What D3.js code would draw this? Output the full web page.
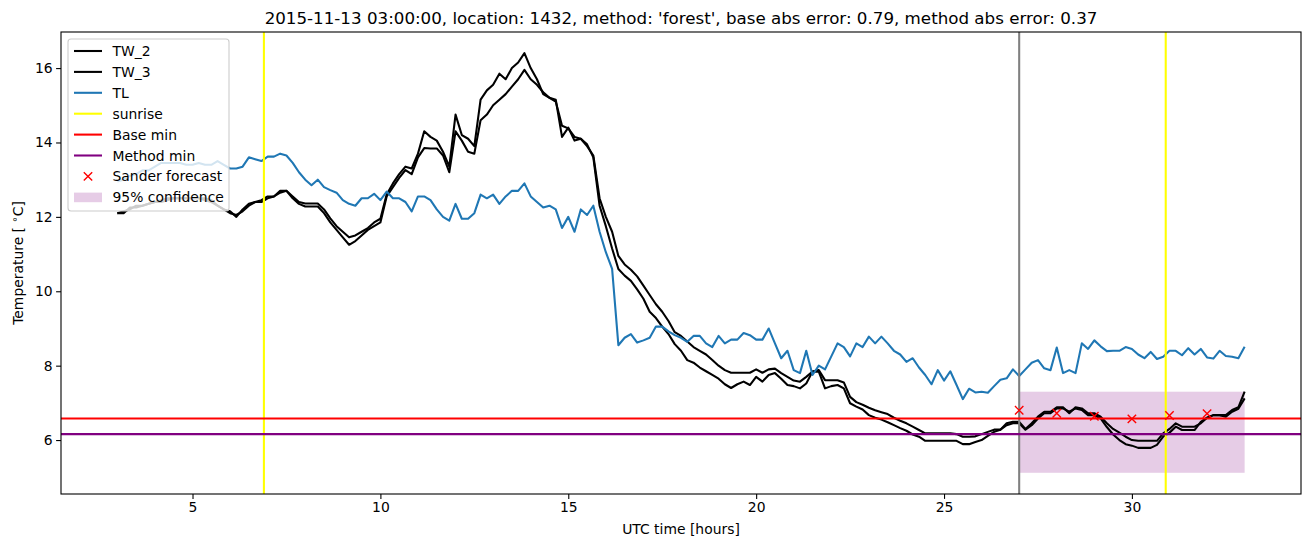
<!DOCTYPE html>
<html>
<head>
<meta charset="utf-8">
<script src="https://cdn.jsdelivr.net/npm/d3@7"></script>
<style>
  html, body { margin: 0; padding: 0; background: #fff; }
  svg { display: block; font-family: "DejaVu Sans", sans-serif; }
</style>
</head>
<body>
<svg id="chart" width="1311" height="547"></svg>
<script>
// ---------------- data ----------------
// 10-minute samples from 03:00 (hour 3) to hour 33
const startHour = 3;
const stepHours = 1 / 6;

const TL = [
  12.95, 13.0, 13.1, 13.15, 13.25, 13.25,
  13.35, 13.45, 13.45, 13.45, 13.45, 13.4,
  13.4, 13.45, 13.4, 13.4, 13.5, 13.4,
  13.3, 13.3, 13.35, 13.6, 13.55, 13.5,
  13.62, 13.62, 13.7, 13.65, 13.45, 13.2,
  13.0, 12.85, 13.0, 12.8, 12.72, 12.65,
  12.45, 12.35, 12.3, 12.5, 12.5, 12.62,
  12.45, 12.68, 12.5, 12.5, 12.4, 12.15,
  12.55, 12.55, 12.45, 12.2, 12.0, 11.9,
  12.35, 11.95, 11.95, 12.1, 12.6, 12.5,
  12.6, 12.35, 12.55, 12.7, 12.7, 12.9,
  12.55, 12.4, 12.25, 12.3, 12.2, 11.7,
  12.0, 11.6, 12.2, 12.05, 12.3, 11.6,
  11.05, 10.6, 8.55, 8.75, 8.85, 8.62,
  8.68, 8.75, 9.05, 9.05, 8.92, 8.82,
  8.75, 8.64, 8.8, 8.8, 8.6, 8.5,
  8.8, 8.6, 8.7, 8.7, 8.88, 8.82,
  8.7, 8.7, 9.0, 8.6, 8.2, 8.4,
  7.88, 7.8, 8.4, 7.75, 8.0, 7.9,
  8.25, 8.6, 8.5, 8.25, 8.6, 8.5,
  8.78, 8.6, 8.78, 8.6, 8.4, 8.3,
  8.1, 8.2, 7.95, 7.75, 7.5, 7.88,
  7.6, 7.85, 7.48, 7.1, 7.38, 7.28,
  7.3, 7.27, 7.45, 7.62, 7.66, 7.9,
  7.72, 7.9, 8.08, 8.15, 7.93, 7.88,
  8.49, 7.8, 7.88, 7.8, 8.6, 8.45,
  8.68, 8.52, 8.39, 8.4, 8.4, 8.5,
  8.45, 8.3, 8.2, 8.37, 8.18, 8.24,
  8.4, 8.4, 8.28, 8.47, 8.3, 8.45,
  8.22, 8.19, 8.4, 8.26, 8.24, 8.2,
  8.51
];

const TW_2 = [
  12.1, 12.1, 12.25, 12.25, 12.3, 12.35,
  12.4, 12.45, 12.5, 12.5, 12.5, 12.5,
  12.5, 12.5, 12.5, 12.45, 12.3, 12.2,
  12.15, 12.0, 12.2, 12.35, 12.4, 12.45,
  12.55, 12.55, 12.65, 12.7, 12.55, 12.4,
  12.36, 12.36, 12.36, 12.2, 11.96, 11.75,
  11.6, 11.45, 11.5, 11.6, 11.7, 11.85,
  11.95, 12.6, 12.9, 13.15, 13.35, 13.3,
  13.7, 14.3, 14.15, 14.05, 13.75, 13.35,
  14.75, 14.2, 14.1, 13.9, 15.15, 15.4,
  15.55, 15.85, 15.7, 16.0, 16.15, 16.4,
  16.0, 15.7, 15.3, 15.2, 15.15, 14.15,
  14.4, 14.05, 14.1, 13.9, 13.65, 12.5,
  12.0, 11.6, 10.95, 10.72, 10.58, 10.4,
  10.15, 9.9, 9.65, 9.45, 9.2, 8.9,
  8.8, 8.65, 8.5, 8.4, 8.3, 8.15,
  8.0, 7.88, 7.81, 7.81, 7.81, 7.81,
  7.9, 7.81, 7.9, 7.92, 7.8, 7.7,
  7.6, 7.57, 7.7, 7.84, 7.88, 7.61,
  7.61, 7.61, 7.55, 7.16, 7.02, 6.95,
  6.87, 6.8, 6.75, 6.7, 6.6, 6.52,
  6.45, 6.36, 6.27, 6.18, 6.18, 6.18,
  6.18, 6.18, 6.16, 6.09, 6.09, 6.1,
  6.16, 6.22, 6.28, 6.28, 6.45, 6.49,
  6.49, 6.3, 6.45, 6.63, 6.76, 6.76,
  6.88, 6.88, 6.72, 6.88, 6.85, 6.72,
  6.72, 6.63, 6.45, 6.3, 6.2, 6.09,
  6.0, 5.98, 5.98, 5.98, 5.98, 6.18,
  6.3, 6.45, 6.36, 6.36, 6.36, 6.45,
  6.6, 6.67, 6.67, 6.67, 6.81, 6.88,
  7.3
];

const TW_3 = [
  12.1, 12.15, 12.2, 12.3, 12.3, 12.35,
  12.4, 12.4, 12.45, 12.5, 12.5, 12.5,
  12.5, 12.5, 12.45, 12.4, 12.3, 12.2,
  12.1, 12.05, 12.15, 12.3, 12.4, 12.4,
  12.5, 12.55, 12.7, 12.7, 12.5, 12.35,
  12.28, 12.28, 12.28, 12.1, 11.85, 11.65,
  11.45, 11.25, 11.35, 11.5, 11.65, 11.75,
  11.85, 12.55, 12.8, 13.05, 13.26, 13.15,
  13.6, 13.85, 13.84, 13.84, 13.65, 13.2,
  14.3, 14.05, 13.75, 13.7, 14.6, 14.75,
  15.0, 15.15, 15.3, 15.5, 15.7, 15.95,
  15.7, 15.55, 15.35, 15.2, 15.1, 14.45,
  14.38, 14.15, 14.1, 13.95, 13.6, 12.3,
  11.75, 11.15, 10.6, 10.42, 10.28, 10.05,
  9.8, 9.45, 9.28, 9.05, 8.85, 8.58,
  8.4, 8.15, 8.08, 7.95, 7.85, 7.75,
  7.65, 7.5, 7.4, 7.5, 7.57, 7.48,
  7.7, 7.57, 7.75, 7.8, 7.65, 7.48,
  7.45, 7.39, 7.52, 7.84, 7.84, 7.39,
  7.45, 7.48, 7.39, 6.99, 6.9, 6.82,
  6.67, 6.6, 6.55, 6.48, 6.4, 6.32,
  6.25, 6.15, 6.09, 5.98, 5.98, 5.98,
  5.98, 5.98, 5.98, 5.89, 5.89, 5.95,
  6.0, 6.11, 6.22, 6.28, 6.4, 6.45,
  6.45, 6.28, 6.4, 6.58, 6.72, 6.72,
  6.85, 6.85, 6.76, 6.85, 6.81, 6.67,
  6.67, 6.58, 6.35, 6.15, 6.0, 5.89,
  5.85, 5.79, 5.79, 5.79, 5.87, 6.09,
  6.2, 6.36, 6.27, 6.27, 6.27, 6.49,
  6.6, 6.67, 6.67, 6.63, 6.76, 6.84,
  7.12
];

const sunriseHours = [6.9, 30.9];
const forecastStartHour = 27;
const baseMin = 6.58;
const methodMin = 6.16;
const forecastHours = [27, 28, 29, 30, 31, 32];
const sanderForecast = [6.8, 6.72, 6.64, 6.57, 6.66, 6.71];
const bandHours = [27, 33];
const bandLow = 5.12;
const bandHigh = 7.3;

const xTicks = [5, 10, 15, 20, 25, 30];
const yTicks = [6, 8, 10, 12, 14, 16];
const xDomain = [1.5, 34.5];
const yDomain = [4.55, 16.97];

const titleText = "2015-11-13 03:00:00, location: 1432, method: 'forest', base abs error: 0.79, method abs error: 0.37";

// ---------------- layout ----------------
const L = 61, R = 1301, T = 32, B = 494;
const LW = 2.08; // 1.5pt at 100 dpi
const svg = d3.select("#chart");
const x = d3.scaleLinear().domain(xDomain).range([L, R]);
const y = d3.scaleLinear().domain(yDomain).range([B, T]);

const hoursOf = arr => arr.map((_, i) => startHour + i * stepHours);
const toPts = arr => { const h = hoursOf(arr); return arr.map((v, i) => [h[i], v]); };

svg.append("defs").append("clipPath").attr("id", "clip")
  .append("rect").attr("x", L).attr("y", T).attr("width", R - L).attr("height", B - T);
const plot = svg.append("g").attr("clip-path", "url(#clip)");

// confidence band (below lines)
plot.append("rect")
  .attr("x", x(bandHours[0])).attr("width", x(bandHours[1]) - x(bandHours[0]))
  .attr("y", y(bandHigh)).attr("height", y(bandLow) - y(bandHigh))
  .attr("fill", "purple").attr("fill-opacity", 0.2);

const line = d3.line().x(d => x(d[0])).y(d => y(d[1]));
const series = [
  { data: TW_2, color: "black" },
  { data: TW_3, color: "black" },
  { data: TL, color: "#1f77b4" }
];
series.forEach(s => {
  plot.append("path").datum(toPts(s.data))
    .attr("d", line).attr("fill", "none")
    .attr("stroke", s.color).attr("stroke-width", LW)
    .attr("stroke-linejoin", "round").attr("stroke-linecap", "butt");
});

// vertical lines
plot.append("line").attr("x1", x(forecastStartHour)).attr("x2", x(forecastStartHour))
  .attr("y1", T).attr("y2", B).attr("stroke", "gray").attr("stroke-width", LW);
sunriseHours.forEach(h => {
  plot.append("line").attr("x1", x(h)).attr("x2", x(h))
    .attr("y1", T).attr("y2", B).attr("stroke", "yellow").attr("stroke-width", LW);
});
// horizontal lines
plot.append("line").attr("x1", L).attr("x2", R).attr("y1", y(baseMin)).attr("y2", y(baseMin))
  .attr("stroke", "red").attr("stroke-width", LW);
plot.append("line").attr("x1", L).attr("x2", R).attr("y1", y(methodMin)).attr("y2", y(methodMin))
  .attr("stroke", "purple").attr("stroke-width", LW);

// forecast markers
const ms = 4.2;
forecastHours.forEach((h, i) => {
  const cx = x(h), cy = y(sanderForecast[i]);
  plot.append("path")
    .attr("d", `M${cx - ms},${cy - ms}L${cx + ms},${cy + ms}M${cx - ms},${cy + ms}L${cx + ms},${cy - ms}`)
    .attr("stroke", "red").attr("stroke-width", 1.4).attr("fill", "none");
});

// ---------------- axes ----------------
const fs = 13.9;
const xAxis = d3.axisBottom(x).tickValues(xTicks).tickSize(4.9).tickPadding(3.5).tickFormat(d3.format("d"));
const gx = svg.append("g").attr("transform", `translate(0,${B})`).call(xAxis);
const yAxis = d3.axisLeft(y).tickValues(yTicks).tickSize(4.9).tickPadding(3.5).tickFormat(d3.format("d"));
const gy = svg.append("g").attr("transform", `translate(${L},0)`).call(yAxis);
[gx, gy].forEach(g => {
  g.select(".domain").remove();
  g.selectAll(".tick line").attr("stroke", "black").attr("stroke-width", 1.1);
  g.selectAll(".tick text").attr("fill", "black")
    .style("font-family", "'DejaVu Sans', sans-serif").style("font-size", fs + "px");
});

// frame
svg.append("rect").attr("x", L).attr("y", T).attr("width", R - L).attr("height", B - T)
  .attr("fill", "none").attr("stroke", "black").attr("stroke-width", 1.1);

// labels
svg.append("text").attr("x", (L + R) / 2).attr("y", 24)
  .attr("text-anchor", "middle").style("font-size", "16.7px").text(titleText);
svg.append("text").attr("x", (L + R) / 2).attr("y", 534)
  .attr("text-anchor", "middle").style("font-size", fs + "px").text("UTC time [hours]");
const yl = svg.append("text").attr("transform", `translate(23,${(T + B) / 2}) rotate(-90)`)
  .attr("text-anchor", "middle").style("font-size", fs + "px");
yl.append("tspan").text("Temperature [ ");
yl.append("tspan").attr("dy", -5).style("font-size", "10px").text("∘");
yl.append("tspan").attr("dy", 5).text("C]");

// ---------------- legend ----------------
const leg = svg.append("g");
const legX = 68, legY = 39, legW = 161, legH = 172;
leg.append("rect").attr("x", legX).attr("y", legY).attr("width", legW).attr("height", legH)
  .attr("rx", 3).attr("fill", "white").attr("fill-opacity", 0.8)
  .attr("stroke", "#cccccc").attr("stroke-width", 1.1);
const items = [
  { label: "TW_2", type: "line", color: "black" },
  { label: "TW_3", type: "line", color: "black" },
  { label: "TL", type: "line", color: "#1f77b4" },
  { label: "sunrise", type: "line", color: "yellow" },
  { label: "Base min", type: "line", color: "red" },
  { label: "Method min", type: "line", color: "purple" },
  { label: "Sander forecast", type: "marker", color: "red" },
  { label: "95% confidence", type: "patch", color: "purple" }
];
const hx0 = 74, hx1 = 102, tx = 112.5, row0 = 51, rowH = 20.9;
items.forEach((it, i) => {
  const cy = row0 + i * rowH;
  if (it.type === "line") {
    leg.append("line").attr("x1", hx0).attr("x2", hx1).attr("y1", cy).attr("y2", cy)
      .attr("stroke", it.color).attr("stroke-width", LW);
  } else if (it.type === "marker") {
    const cx = (hx0 + hx1) / 2;
    leg.append("path")
      .attr("d", `M${cx - ms},${cy - ms}L${cx + ms},${cy + ms}M${cx - ms},${cy + ms}L${cx + ms},${cy - ms}`)
      .attr("stroke", it.color).attr("stroke-width", 1.4);
  } else {
    leg.append("rect").attr("x", hx0).attr("y", cy - 4.7).attr("width", hx1 - hx0).attr("height", 9.6)
      .attr("fill", it.color).attr("fill-opacity", 0.2);
  }
  leg.append("text").attr("x", tx).attr("y", cy + 5).style("font-size", fs + "px").text(it.label);
});
</script>
</body>
</html>
